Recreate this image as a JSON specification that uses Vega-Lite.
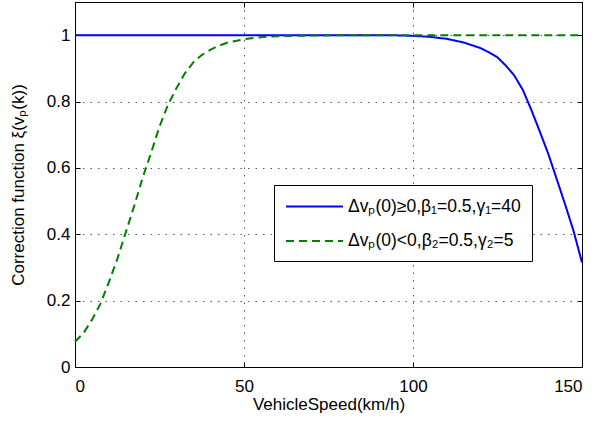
{
  "$schema": "https://vega.github.io/schema/vega-lite/v6.json",
  "width": 507,
  "height": 365,
  "autosize": {"type": "none"},
  "padding": {"left": 75, "top": 2, "right": 15, "bottom": 56},
  "config": {
    "font": "Liberation Sans",
    "view": {"stroke": "black", "strokeWidth": 1},
    "axis": {
      "labelFont": "Liberation Sans",
      "titleFont": "Liberation Sans",
      "labelFontSize": 17,
      "titleFontSize": 17,
      "titleFontWeight": "normal",
      "labelColor": "black",
      "titleColor": "black",
      "domainColor": "black",
      "tickColor": "black",
      "tickSize": -5,
      "gridColor": "#555555",
      "gridDash": [1.5, 6],
      "gridWidth": 1
    },
    "legend": {
      "symbolType": "M-1,0H5",
      "symbolSize": 361,
      "symbolStrokeWidth": 2,
      "labelFontSize": 17.5,
      "labelFont": "Liberation Sans",
      "labelColor": "black",
      "labelLimit": 0,
      "labelOffset": 42,
      "rowPadding": 15.5,
      "padding": 11,
      "fillColor": "white",
      "strokeColor": "black"
    }
  },
  "datasets": {
    "curves": [
      {"v": 0, "xi": 1, "s": "Δvₚ(0)≥0,β₁=0.5,γ₁=40"},
      {"v": 90, "xi": 1, "s": "Δvₚ(0)≥0,β₁=0.5,γ₁=40"},
      {"v": 95, "xi": 0.9995, "s": "Δvₚ(0)≥0,β₁=0.5,γ₁=40"},
      {"v": 100, "xi": 0.998, "s": "Δvₚ(0)≥0,β₁=0.5,γ₁=40"},
      {"v": 105, "xi": 0.995, "s": "Δvₚ(0)≥0,β₁=0.5,γ₁=40"},
      {"v": 110, "xi": 0.989, "s": "Δvₚ(0)≥0,β₁=0.5,γ₁=40"},
      {"v": 115, "xi": 0.978, "s": "Δvₚ(0)≥0,β₁=0.5,γ₁=40"},
      {"v": 120, "xi": 0.961, "s": "Δvₚ(0)≥0,β₁=0.5,γ₁=40"},
      {"v": 122.5, "xi": 0.948, "s": "Δvₚ(0)≥0,β₁=0.5,γ₁=40"},
      {"v": 125, "xi": 0.933, "s": "Δvₚ(0)≥0,β₁=0.5,γ₁=40"},
      {"v": 127.5, "xi": 0.908, "s": "Δvₚ(0)≥0,β₁=0.5,γ₁=40"},
      {"v": 130, "xi": 0.878, "s": "Δvₚ(0)≥0,β₁=0.5,γ₁=40"},
      {"v": 132.5, "xi": 0.835, "s": "Δvₚ(0)≥0,β₁=0.5,γ₁=40"},
      {"v": 135, "xi": 0.775, "s": "Δvₚ(0)≥0,β₁=0.5,γ₁=40"},
      {"v": 137.5, "xi": 0.71, "s": "Δvₚ(0)≥0,β₁=0.5,γ₁=40"},
      {"v": 140, "xi": 0.643, "s": "Δvₚ(0)≥0,β₁=0.5,γ₁=40"},
      {"v": 142.5, "xi": 0.567, "s": "Δvₚ(0)≥0,β₁=0.5,γ₁=40"},
      {"v": 145, "xi": 0.49, "s": "Δvₚ(0)≥0,β₁=0.5,γ₁=40"},
      {"v": 147.5, "xi": 0.41, "s": "Δvₚ(0)≥0,β₁=0.5,γ₁=40"},
      {"v": 150, "xi": 0.315, "s": "Δvₚ(0)≥0,β₁=0.5,γ₁=40"},
      {"v": 0, "xi": 0.076, "s": "Δvₚ(0)<0,β₂=0.5,γ₂=5"},
      {"v": 2.5, "xi": 0.102, "s": "Δvₚ(0)<0,β₂=0.5,γ₂=5"},
      {"v": 5, "xi": 0.142, "s": "Δvₚ(0)<0,β₂=0.5,γ₂=5"},
      {"v": 7.5, "xi": 0.19, "s": "Δvₚ(0)<0,β₂=0.5,γ₂=5"},
      {"v": 10, "xi": 0.255, "s": "Δvₚ(0)<0,β₂=0.5,γ₂=5"},
      {"v": 12.5, "xi": 0.325, "s": "Δvₚ(0)<0,β₂=0.5,γ₂=5"},
      {"v": 15, "xi": 0.405, "s": "Δvₚ(0)<0,β₂=0.5,γ₂=5"},
      {"v": 17.5, "xi": 0.485, "s": "Δvₚ(0)<0,β₂=0.5,γ₂=5"},
      {"v": 20, "xi": 0.57, "s": "Δvₚ(0)<0,β₂=0.5,γ₂=5"},
      {"v": 22.5, "xi": 0.645, "s": "Δvₚ(0)<0,β₂=0.5,γ₂=5"},
      {"v": 25, "xi": 0.725, "s": "Δvₚ(0)<0,β₂=0.5,γ₂=5"},
      {"v": 27.5, "xi": 0.79, "s": "Δvₚ(0)<0,β₂=0.5,γ₂=5"},
      {"v": 30, "xi": 0.84, "s": "Δvₚ(0)<0,β₂=0.5,γ₂=5"},
      {"v": 32.5, "xi": 0.885, "s": "Δvₚ(0)<0,β₂=0.5,γ₂=5"},
      {"v": 35, "xi": 0.918, "s": "Δvₚ(0)<0,β₂=0.5,γ₂=5"},
      {"v": 37.5, "xi": 0.94, "s": "Δvₚ(0)<0,β₂=0.5,γ₂=5"},
      {"v": 40, "xi": 0.956, "s": "Δvₚ(0)<0,β₂=0.5,γ₂=5"},
      {"v": 42.5, "xi": 0.968, "s": "Δvₚ(0)<0,β₂=0.5,γ₂=5"},
      {"v": 45, "xi": 0.977, "s": "Δvₚ(0)<0,β₂=0.5,γ₂=5"},
      {"v": 50, "xi": 0.988, "s": "Δvₚ(0)<0,β₂=0.5,γ₂=5"},
      {"v": 55, "xi": 0.994, "s": "Δvₚ(0)<0,β₂=0.5,γ₂=5"},
      {"v": 60, "xi": 0.997, "s": "Δvₚ(0)<0,β₂=0.5,γ₂=5"},
      {"v": 70, "xi": 0.999, "s": "Δvₚ(0)<0,β₂=0.5,γ₂=5"},
      {"v": 80, "xi": 1, "s": "Δvₚ(0)<0,β₂=0.5,γ₂=5"},
      {"v": 150, "xi": 1, "s": "Δvₚ(0)<0,β₂=0.5,γ₂=5"}
    ]
  },
  "data": {"name": "curves"},
  "layer": [
    {
      "transform": [{"filter": "datum.s == 'Δvₚ(0)≥0,β₁=0.5,γ₁=40'"}],
      "mark": {"type": "line", "strokeWidth": 2},
      "encoding": {
        "x": {"field": "v", "type": "quantitative", "scale": {"domain": [0, 150], "nice": false},
              "axis": {"orient": "bottom", "values": [0, 50, 100, 150], "grid": true, "title": "VehicleSpeed(km/h)", "labelPadding": 16, "titlePadding": 2}},
        "y": {"field": "xi", "type": "quantitative", "scale": {"domain": [0, 1.1], "nice": false},
              "axis": {"orient": "left", "values": [0, 0.2, 0.4, 0.6, 0.8, 1], "format": "~g", "grid": true, "title": "Correction function ξ(vₚ(k))", "labelPadding": 10, "titlePadding": 19}},
        "color": {"field": "s", "type": "nominal", "scale": {"domain": ["Δvₚ(0)≥0,β₁=0.5,γ₁=40", "Δvₚ(0)<0,β₂=0.5,γ₂=5"], "range": ["#0000ff", "#008000"]},
                  "legend": {"title": null, "orient": "none", "legendX": 199, "legendY": 183}},
        "strokeDash": {"field": "s", "type": "nominal", "scale": {"domain": ["Δvₚ(0)≥0,β₁=0.5,γ₁=40", "Δvₚ(0)<0,β₂=0.5,γ₂=5"], "range": [[1, 0], [8, 5]]},
                  "legend": {"title": null, "orient": "none", "legendX": 199, "legendY": 183}}
      }
    },
    {
      "transform": [{"filter": "datum.s == 'Δvₚ(0)<0,β₂=0.5,γ₂=5'"}],
      "mark": {"type": "line", "strokeWidth": 2},
      "encoding": {
        "x": {"field": "v", "type": "quantitative",
              "axis": {"orient": "top", "values": [0, 50, 100, 150], "grid": false, "labels": false, "title": null}},
        "y": {"field": "xi", "type": "quantitative",
              "axis": {"orient": "right", "values": [0, 0.2, 0.4, 0.6, 0.8, 1], "grid": false, "labels": false, "title": null}},
        "color": {"field": "s", "type": "nominal"},
        "strokeDash": {"field": "s", "type": "nominal"}
      }
    }
  ]
}
